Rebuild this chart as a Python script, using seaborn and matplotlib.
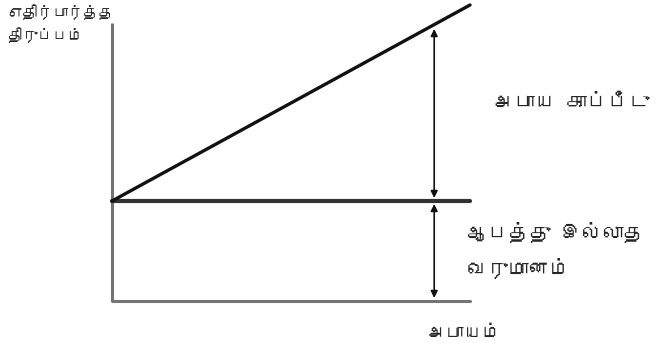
import numpy as np, pandas as pd, matplotlib
matplotlib.use("Agg"); import matplotlib.pyplot as plt
import seaborn as sns
from matplotlib import font_manager
from matplotlib.ft2font import FT2Font

sns.set_style("white")

# find any installed family with Tamil glyphs, else fall back
def tamil_family():
    for f in font_manager.fontManager.ttflist:
        try:
            if 0x0B85 in FT2Font(f.fname).get_charmap():
                return f.name
        except Exception:
            pass
    return None
fam = tamil_family()
plt.rcParams["font.family"] = ([fam] if fam else []) + ["DejaVu Sans"]

# ---- data (risk on x, return on y) ----
risk = [0.0, 10.0]
risk_free = 1.0
market_return = [1.0, 2.96]
axis_top = 2.78
arrow_risk = 9.0
arrow_top = 2.72

label_y = "எதிர்பார்த்த\nதிருப்பம்"
label_x = "அபாயம்"
label_premium = "அபாய காப்பீடு"
label_rf = ["ஆபத்து இல்லாத", "வருமானம்"]

fig = plt.figure(figsize=(6.65, 3.52), dpi=100)
ax = fig.add_axes([0, 0, 1, 1])
ax.set_xlim(-112 / 35.8, (665 - 112) / 35.8)
ax.set_ylim(-0.51, 3.01)
ax.axis("off")

# axes of the diagram
ax.plot([risk[0], risk[0]], [0, axis_top], color="#747474", lw=2.2, solid_capstyle="butt")
sns.lineplot(x=risk, y=[0, 0], ax=ax, color="#747474", lw=2.2)
# risk-free line and market line
sns.lineplot(x=risk, y=[risk_free, risk_free], ax=ax, color="#333333", lw=3)
sns.lineplot(x=risk, y=market_return, ax=ax, color="#111111", lw=2.4)

ap = dict(arrowstyle="<|-|>", color="#111111", lw=1.2, mutation_scale=10, shrinkA=0, shrinkB=0)
ax.annotate("", xy=(arrow_risk, arrow_top), xytext=(arrow_risk, risk_free + 0.03), arrowprops=ap)
ax.annotate("", xy=(arrow_risk, 0.03), xytext=(arrow_risk, risk_free - 0.03), arrowprops=ap)

ax.text(-2.92, 2.97, label_y, fontsize=11, va="top", ha="left", linespacing=1.55)
ax.text(10.64, 1.98, label_premium, fontsize=15, va="center", ha="left")
ax.text(9.92, 0.69, label_rf[0], fontsize=15, va="center", ha="left")
ax.text(9.92, 0.33, label_rf[1], fontsize=15, va="center", ha="left")
ax.text(8.8, -0.32, label_x, fontsize=13.5, va="center", ha="left")

fig.savefig("out.png", dpi=100)
